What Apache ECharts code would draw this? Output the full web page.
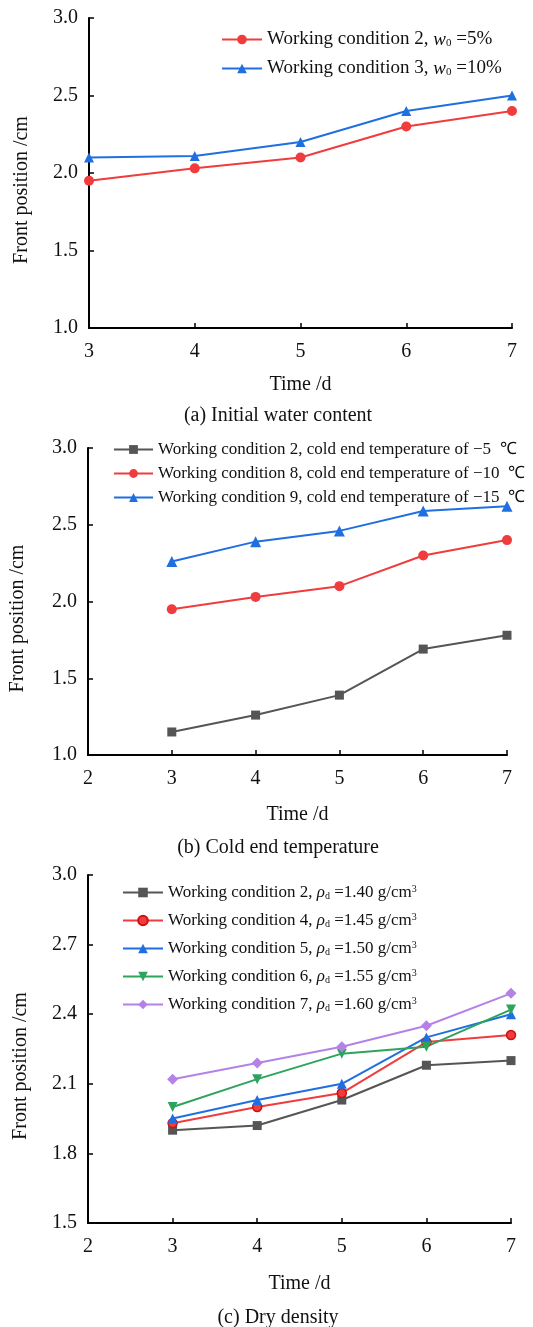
<!DOCTYPE html>
<html>
<head>
<meta charset="utf-8">
<script src="https://cdn.jsdelivr.net/npm/echarts@6/dist/echarts.min.js"></script>
<style>
html,body{margin:0;padding:0;background:#fff;}
#c{width:533px;height:1327px;}
</style>
</head>
<body>
<div id="c"></div>
<script>
// ---------- data ----------
const days = [3, 4, 5, 6, 7];

const namesA = ['Working condition 2, w0 =5%', 'Working condition 3, w0 =10%'];
const a_wc2 = [1.95, 2.03, 2.10, 2.30, 2.40];
const a_wc3 = [2.10, 2.11, 2.20, 2.40, 2.50];

const namesB = [
  'Working condition 2, cold end temperature of \u22125  \u2103',
  'Working condition 8, cold end temperature of \u221210  \u2103',
  'Working condition 9, cold end temperature of \u221215  \u2103'
];
const b_wc2 = [1.15, 1.26, 1.39, 1.69, 1.78];
const b_wc8 = [1.95, 2.03, 2.10, 2.30, 2.40];
const b_wc9 = [2.26, 2.39, 2.46, 2.59, 2.62];

const namesC = [
  'Working condition 2, \u03c1d =1.40 g/cm3',
  'Working condition 4, \u03c1d =1.45 g/cm3',
  'Working condition 5, \u03c1d =1.50 g/cm3',
  'Working condition 6, \u03c1d =1.55 g/cm3',
  'Working condition 7, \u03c1d =1.60 g/cm3'
];
const c_wc2 = [1.90, 1.92, 2.03, 2.18, 2.20];
const c_wc4 = [1.93, 2.00, 2.06, 2.28, 2.31];
const c_wc5 = [1.95, 2.03, 2.10, 2.30, 2.40];
const c_wc6 = [2.00, 2.12, 2.23, 2.26, 2.42];
const c_wc7 = [2.12, 2.19, 2.26, 2.35, 2.49];

const captions = ['(a) Initial water content', '(b) Cold end temperature', '(c) Dry density'];
const xName = 'Time /d';
const yName = 'Front position /cm';

// ---------- styling ----------
const FONT = "'Liberation Serif','Times New Roman',serif";
const TXT = '#111';
const RED = '#F03C3C', BLUE = '#1F6FE0', GRAY = '#555555', GREEN = '#2EA35E', PURPLE = '#B482E6';

const pairs = ys => days.map((d, i) => [d, ys[i]]);

function richSet(fs) {
  return {
    i: {fontFamily: FONT, fontStyle: 'italic', fontSize: fs, color: TXT},
    sub: {fontFamily: FONT, fontSize: Math.round(fs * 0.6), color: TXT, verticalAlign: 'bottom'},
    sup: {fontFamily: FONT, fontSize: Math.round(fs * 0.6), color: TXT, verticalAlign: 'top'}
  };
}

const grids = [
  {left: 89, top: 18, width: 423, height: 310},
  {left: 87, top: 448, width: 420, height: 307},
  {left: 88, top: 875, width: 423, height: 348}
];

function xAxis(idx, min, gap) {
  return {
    type: 'value', gridIndex: idx, min: min, max: 7, interval: 1,
    name: xName, nameLocation: 'middle', nameGap: gap,
    nameTextStyle: {fontFamily: FONT, fontSize: 20, color: TXT},
    axisLine: {lineStyle: {color: '#000', width: 2}},
    axisTick: {inside: true, length: 5, lineStyle: {color: '#000', width: 1.5}},
    axisLabel: {fontFamily: FONT, fontSize: 20, color: TXT, margin: 14},
    splitLine: {show: false}
  };
}
function yAxis(idx, min, itv, gap) {
  return {
    type: 'value', gridIndex: idx, min: min, max: 3.0, interval: itv,
    name: yName, nameLocation: 'middle', nameGap: gap, nameRotate: 90,
    nameTextStyle: {fontFamily: FONT, fontSize: 20, color: TXT, padding: [0, 34, 0, 0]},
    axisLine: {lineStyle: {color: '#000', width: 2}},
    axisTick: {inside: true, length: 5, lineStyle: {color: '#000', width: 1.5}},
    axisLabel: {fontFamily: FONT, fontSize: 20, color: TXT, margin: 11,
      formatter: v => (Math.round(v * 10) / 10).toFixed(1)},
    splitLine: {show: false}
  };
}

function line(name, ys, idx, color, symbol, size, extra) {
  return Object.assign({
    type: 'line', name: name, xAxisIndex: idx, yAxisIndex: idx,
    data: pairs(ys), symbol: symbol, symbolSize: size, clip: false,
    lineStyle: {color: color, width: 2},
    itemStyle: {color: color},
    emphasis: {disabled: true}, animation: false
  }, extra || {});
}

const option = {
  backgroundColor: '#fff',
  animation: false,
  title: captions.map((t, i) => ({
    text: t, left: 273, textAlign: 'center', top: [401, 833, 1303][i],
    textStyle: {fontFamily: FONT, fontSize: 20, fontWeight: 'normal', color: TXT}
  })),
  grid: grids,
  xAxis: [xAxis(0, 3, 47), xAxis(1, 2, 50), xAxis(2, 2, 51)],
  yAxis: [yAxis(0, 1.0, 0.5, 57), yAxis(1, 1.0, 0.5, 60), yAxis(2, 1.5, 0.3, 57)],
  legend: [
    {
      data: namesA, orient: 'vertical', left: 216, top: 25,
      itemWidth: 40, itemHeight: 12, itemGap: 10,
      textStyle: {fontFamily: FONT, fontSize: 19, color: TXT, rich: richSet(19)},
      formatter: n => n.replace('w0', '{i|w}{sub|0}'),
      selectedMode: false
    },
    {
      data: namesB, orient: 'vertical', left: 108, top: 436,
      itemWidth: 39, itemHeight: 11, itemGap: 7,
      textStyle: {fontFamily: FONT, fontSize: 17, color: TXT, rich: richSet(17)},
      selectedMode: false
    },
    {
      data: namesC, orient: 'vertical', left: 117, top: 879,
      itemWidth: 40, itemHeight: 12, itemGap: 11,
      textStyle: {fontFamily: FONT, fontSize: 17, color: TXT, rich: richSet(17)},
      formatter: n => n.replace('\u03c1d', '{i|\u03c1}{sub|d}').replace('cm3', 'cm{sup|3}'),
      selectedMode: false
    }
  ],
  series: [
    line(namesA[0], a_wc2, 0, RED, 'circle', 10),
    line(namesA[1], a_wc3, 0, BLUE, 'triangle', 10),

    line(namesB[0], b_wc2, 1, GRAY, 'rect', 9),
    line(namesB[1], b_wc8, 1, RED, 'circle', 10),
    line(namesB[2], b_wc9, 1, BLUE, 'triangle', 11),

    line(namesC[0], c_wc2, 2, GRAY, 'rect', 9),
    line(namesC[1], c_wc4, 2, RED, 'circle', 9, {itemStyle: {color: RED, borderColor: '#d01010', borderWidth: 1.5}}),
    line(namesC[2], c_wc5, 2, BLUE, 'triangle', 10),
    line(namesC[3], c_wc6, 2, GREEN, 'triangle', 10, {symbolRotate: 180}),
    line(namesC[4], c_wc7, 2, PURPLE, 'diamond', [11, 11])
  ]
};

const chart = echarts.init(document.getElementById('c'), null, {renderer: 'canvas'});
chart.setOption(option);
</script>
</body>
</html>
